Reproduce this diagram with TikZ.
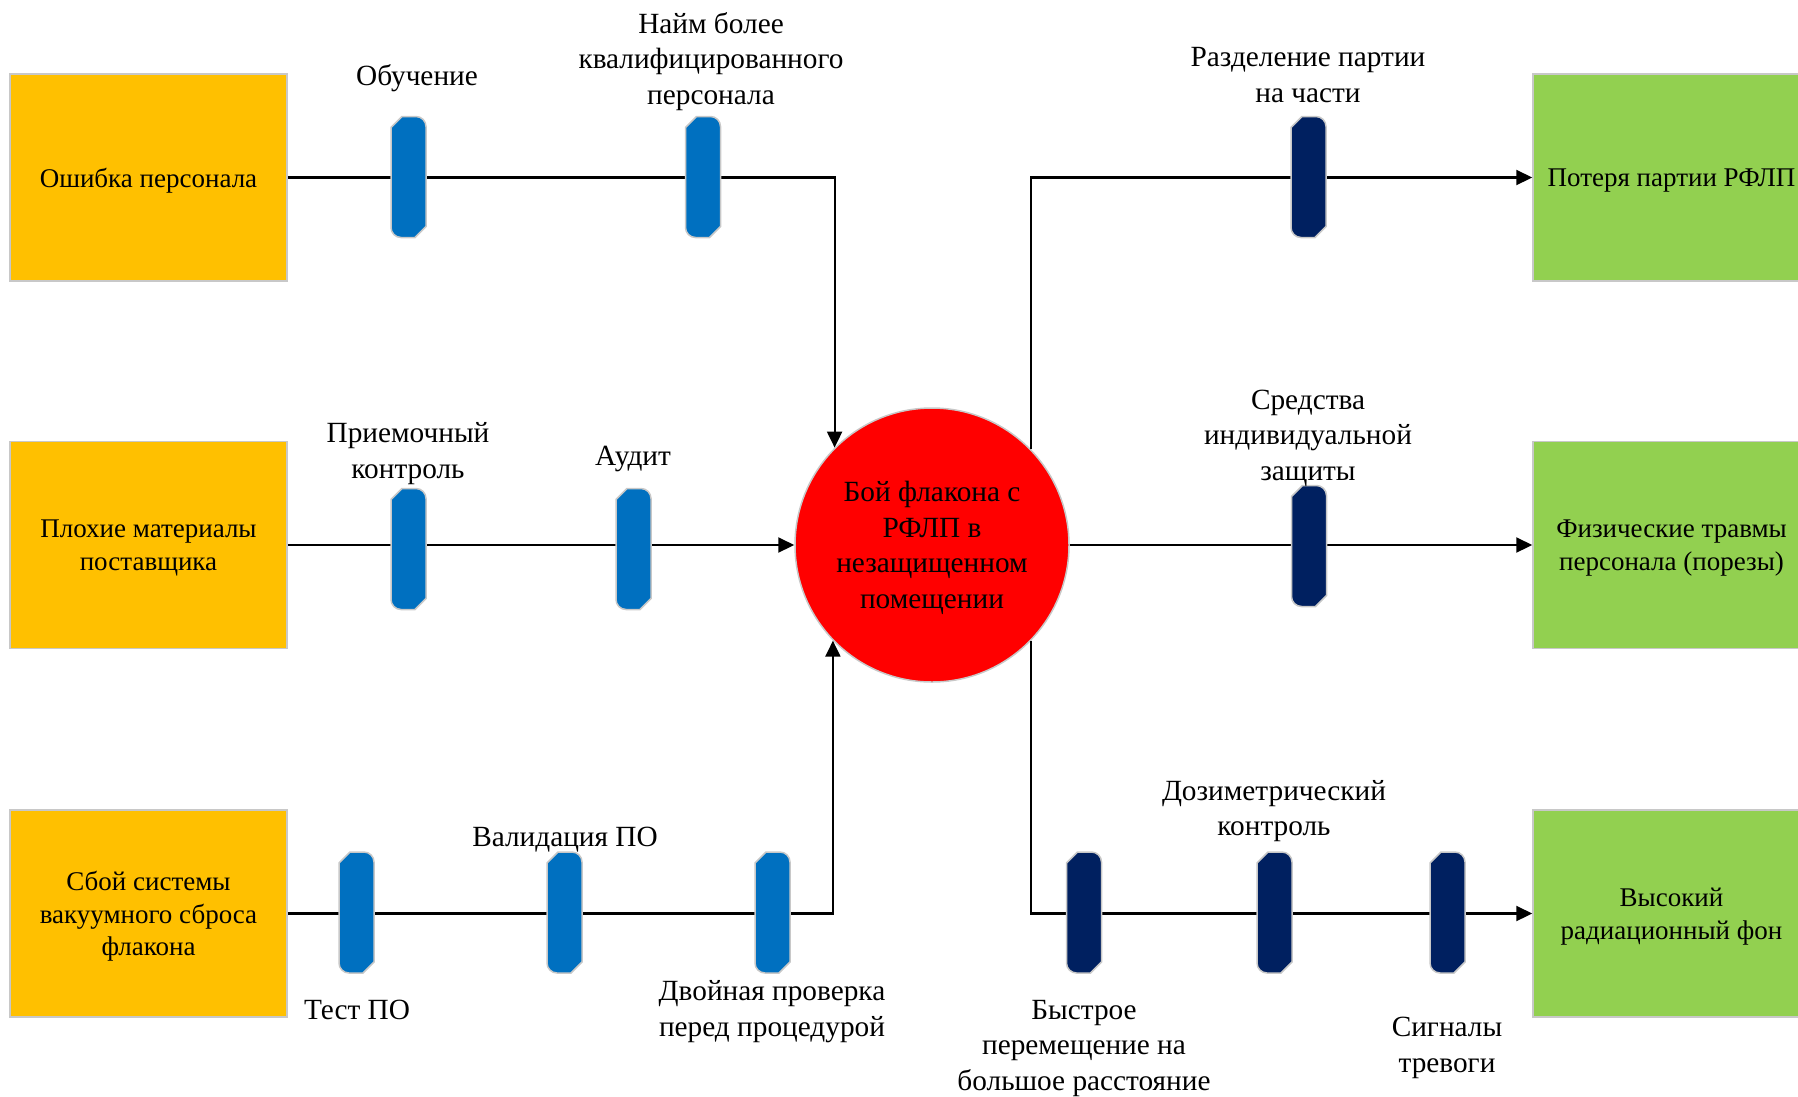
\documentclass[tikz,border=0pt]{standalone}
\usepackage{fontspec}
\setmainfont{Liberation Serif}
\usetikzlibrary{arrows.meta}

\definecolor{causefill}{HTML}{FFC000}
\definecolor{effectfill}{HTML}{92D050}
\definecolor{eventfill}{HTML}{FF0000}
\definecolor{prevblue}{HTML}{0070C0}
\definecolor{mitnavy}{HTML}{002060}
\definecolor{edgegray}{HTML}{C8C8C8}

% Barrier glyph: tall bar, chamfered top-left and bottom-right, rounded other corners
\newcommand\barriershape[2]{%
  \begin{scope}[shift={(#1.center)}, x=1pt, y=1pt]
    \draw[fill=#2, draw=edgegray, line width=1.5pt]
      (-17.5,49.5) -- (-6.5,60.5) -- (7.5,60.5)
      arc[start angle=90, end angle=0, radius=10]
      -- (17.5,-49.5) -- (6.5,-60.5) -- (-7.5,-60.5)
      arc[start angle=270, end angle=180, radius=10] -- cycle;
  \end{scope}}

\begin{document}
\begin{tikzpicture}[x=1pt, y=-1pt,
  every node/.style={font=\fontsize{29.3}{35.5}\selectfont},
  cause/.style={draw=edgegray, line width=1.5pt, fill=causefill,
    minimum width=277pt, minimum height=207pt, align=center, inner sep=0pt,
    text depth=0pt, font=\fontsize{27}{32.7}\selectfont},
  effect/.style={cause, fill=effectfill},
  event/.style={circle, draw=edgegray, line width=1.5pt, fill=eventfill,
    minimum size=274pt, inner sep=0pt, align=center, text depth=0pt},
  barrier/.style={rectangle, minimum width=35pt, minimum height=121pt, inner sep=0pt},
  bartext/.style={align=center, anchor=base, inner sep=0pt},
  link/.style={line width=2.1pt, draw=black},
  arrowlink/.style={link, -{Triangle[length=16pt, width=15pt]}},
]
\clip (0,0) rectangle (1798,1096);

% causes
\node[cause] (c1) at (148.5,177.5) {Ошибка персонала};
\node[cause] (c2) at (148.5,545) {Плохие материалы\\поставщика};
\node[cause] (c3) at (148.5,913.5) {Сбой системы\\вакуумного сброса\\флакона};

% top event
\node[event] (ev) at (932,545) {Бой флакона с\\РФЛП в\\незащищенном\\помещении};

% consequences
\node[effect] (e1) at (1671.5,177.5) {Потеря партии РФЛП};
\node[effect] (e2) at (1671.5,545) {Физические травмы\\персонала (порезы)};
\node[effect] (e3) at (1671.5,913.5) {Высокий\\радиационный фон};

% barrier positions
\node[barrier] (b11) at (408.5,177) {};
\node[barrier] (b12) at (703,177) {};
\node[barrier] (b21) at (408.5,549) {};
\node[barrier] (b22) at (633.5,549) {};
\node[barrier] (b31) at (356.5,912.5) {};
\node[barrier] (b32) at (564.5,912.5) {};
\node[barrier] (b33) at (772.5,912.5) {};
\node[barrier] (b41) at (1308.5,177) {};
\node[barrier] (b51) at (1309,546) {};
\node[barrier] (b61) at (1084,912.5) {};
\node[barrier] (b62) at (1274.5,912.5) {};
\node[barrier] (b63) at (1447.5,912.5) {};

% threat and consequence lines
\draw[arrowlink] (c1.east) -| (ev.135.6);
\draw[arrowlink] (c2.east) -- (ev.west);
\draw[arrowlink] (c3.east) -| (ev.224.4);
\draw[arrowlink] (ev.44.4) |- (e1.west);
\draw[arrowlink] (ev.east) -- (e2.west);
\draw[arrowlink] (ev.-44.4) |- (e3.west);

% barriers on top of the lines
\foreach \b in {b11,b12,b21,b22,b31,b32,b33}{\barriershape{\b}{prevblue}}
\foreach \b in {b41,b51,b61,b62,b63}{\barriershape{\b}{mitnavy}}

% barrier captions (anchored at the baseline of the last line)
\node[bartext] (t11) at (417,85) {Обучение};
\node[bartext] (t12) at (711,104) {Найм более\\квалифицированного\\персонала};
\node[bartext] (t21) at (408,478) {Приемочный\\контроль};
\node[bartext] (t22) at (633,465) {Аудит};
\node[bartext] (t31) at (357,1019) {Тест ПО};
\node[bartext] (t32) at (565,846) {Валидация ПО};
\node[bartext] (t33) at (772,1036) {Двойная проверка\\перед процедурой};
\node[bartext] (t41) at (1308,102) {Разделение партии\\на части};
\node[bartext] (t51) at (1308,480) {Средства\\индивидуальной\\защиты};
\node[bartext] (t61) at (1084,1090) {Быстрое\\перемещение на\\большое расстояние};
\node[bartext] (t62) at (1274,835.5) {Дозиметрический\\контроль};
\node[bartext] (t63) at (1447,1072) {Сигналы\\тревоги};
\end{tikzpicture}
\end{document}
